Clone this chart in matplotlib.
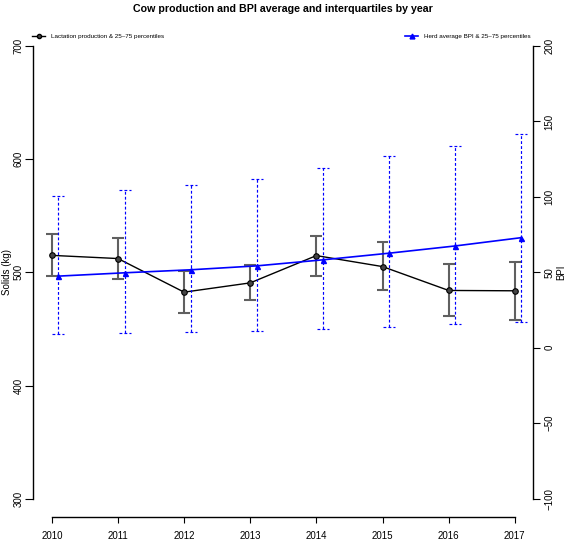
import matplotlib
matplotlib.use("Agg")
import matplotlib.pyplot as plt
from matplotlib.lines import Line2D

plt.rcParams['font.family'] = ['Liberation Sans', 'DejaVu Sans']

years = [2010, 2011, 2012, 2013, 2014, 2015, 2016, 2017]
prod_mean = [515.0, 512.2, 482.5, 490.7, 514.8, 505.1, 484.0, 483.7]
prod_q25 = [497.0, 494.3, 464.0, 475.5, 496.6, 484.5, 461.3, 458.0]
prod_q75 = [533.8, 530.7, 501.6, 506.6, 532.2, 527.2, 507.2, 509.0]
bpi_mean = [47.5, 49.7, 51.7, 54.3, 58.3, 62.7, 67.5, 73.0]
bpi_q25 = [9.3, 10.0, 10.4, 11.3, 12.4, 13.9, 15.7, 17.4]
bpi_q75 = [100.7, 104.4, 107.7, 111.9, 119.0, 127.2, 134.0, 141.9]

left_ticks = [300, 400, 500, 600, 700]
right_ticks = [-100, -50, 0, 50, 100, 150, 200]

title = "Cow production and BPI average and interquartiles by year"
leg_prod = "Lactation production & 25\u201375 percentiles"
leg_bpi = "Herd average BPI & 25\u201375 percentiles"

W, H = 566, 541
fig = plt.figure(figsize=(W / 100, H / 100), dpi=100)
ax = fig.add_axes([33.3 / W, (H - 516.8) / H, 500.0 / W, 488.9 / H])
ax2 = ax.twinx()

ax.set_xlim(2009.72, 2017.28)
ax.set_ylim(284, 716)
ax2.set_ylim(-112, 212)

BLUE = '#0000ff'
GREY = '#606060'
off = 0.1
cap = 0.09
dash = (0, (2.4, 1.8))

bx = [y + off for y in years]

# production error bars
ax.vlines(years, prod_q25, prod_q75, color=GREY, lw=1.5, zorder=2)
ax.hlines(prod_q25, [y - cap for y in years], [y + cap for y in years], color=GREY, lw=1.5, zorder=2)
ax.hlines(prod_q75, [y - cap for y in years], [y + cap for y in years], color=GREY, lw=1.5, zorder=2)
ax.plot(years, prod_mean, color='black', lw=1.0, marker='o', ms=4,
        mfc='#444444', mec='black', mew=0.8, zorder=3)

# BPI error bars
ax2.vlines(bx, bpi_q25, bpi_q75, color=BLUE, lw=0.85, linestyles=dash, zorder=4)
ax2.hlines(bpi_q25, [x - cap for x in bx], [x + cap for x in bx], color=BLUE, lw=0.85,
           linestyles=dash, zorder=4)
ax2.hlines(bpi_q75, [x - cap for x in bx], [x + cap for x in bx], color=BLUE, lw=0.85,
           linestyles=dash, zorder=4)
ax2.plot(bx, bpi_mean, color=BLUE, lw=1.2, marker='^', ms=3.6, mfc=BLUE, mec=BLUE, zorder=5)

# axes styling (R-like)
for a in (ax, ax2):
    a.spines['top'].set_visible(False)
ax.spines['right'].set_visible(False)
ax2.spines['left'].set_visible(False)
ax2.spines['bottom'].set_visible(False)
ax.spines['left'].set_bounds(300, 700)
ax2.spines['right'].set_bounds(-100, 200)
ax.spines['bottom'].set_bounds(2010, 2017)
for s in ('left', 'bottom'):
    ax.spines[s].set_linewidth(1.0)
ax2.spines['right'].set_linewidth(1.0)

ax.set_xticks(years)
ax.set_xticklabels([str(y) for y in years], fontsize=7)
ax.set_yticks(left_ticks)
ax.set_yticklabels([str(t) for t in left_ticks], fontsize=7, rotation=90, va='center')
ax2.set_yticks(right_ticks)
ax2.set_yticklabels([str(t).replace('-', '\u2212') for t in right_ticks], fontsize=7,
                    rotation=90, va='center')
ax.tick_params(axis='x', length=4, width=0.8, pad=6)
ax.tick_params(axis='y', length=5.5, width=0.8, pad=1.5)
ax2.tick_params(axis='y', length=5, width=0.8, pad=3)

ax.set_ylabel("Solids (kg)", fontsize=7, labelpad=1)
ax2.set_ylabel("BPI", fontsize=7, labelpad=1)

fig.suptitle(title, fontsize=7.7, fontweight='bold', y=0.993)

# legends
ly = (516.8 - 36) / 488.9
h1 = Line2D([], [], color='black', lw=1.0, marker='o', ms=3, mfc='#444444', mec='black')
h2 = Line2D([], [], color=BLUE, lw=1.2, marker='^', ms=3.5, mfc=BLUE, mec=BLUE)
ax.legend([h1], [leg_prod], loc='center left', bbox_to_anchor=(-0.002, ly), frameon=False,
          fontsize=4.5, handlelength=2.0, handletextpad=1.0, borderaxespad=0.0,
          borderpad=0.0)
ax2.legend([h2], [leg_bpi], loc='center right', bbox_to_anchor=(0.995, ly), frameon=False,
           fontsize=4.5, handlelength=2.0, handletextpad=1.0, borderaxespad=0.0,
           borderpad=0.0)

fig.savefig("out.png", dpi=100)
